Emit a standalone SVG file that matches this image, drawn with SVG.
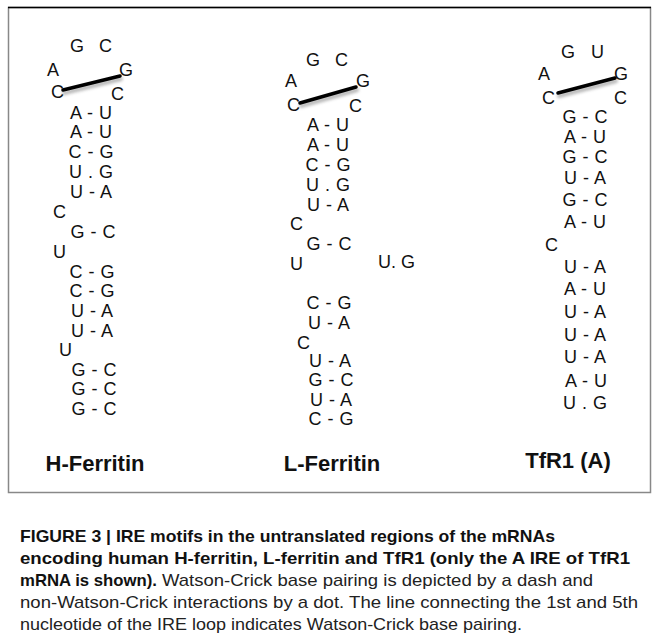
<svg xmlns="http://www.w3.org/2000/svg" width="659" height="643" viewBox="0 0 659 643">
<style>
.n{font-family:"Liberation Sans",Arial,sans-serif;font-size:18px;fill:#111;}
.p{font-family:"Liberation Sans",Arial,sans-serif;font-size:18px;fill:#111;text-anchor:middle;word-spacing:1px;}
.lbl{font-family:"Liberation Sans",Arial,sans-serif;font-size:22px;font-weight:bold;fill:#111;text-anchor:middle;}
.cb{font-family:"Liberation Sans Narrow","Liberation Sans",Arial,sans-serif;font-size:17px;font-weight:bold;fill:#111;}
.cr{font-family:"Liberation Sans Narrow","Liberation Sans",Arial,sans-serif;font-size:17px;fill:#222;}
.lp{stroke:#000;stroke-width:3.5;stroke-linecap:round;}
.sh{stroke:#999;stroke-width:4;stroke-linecap:round;opacity:0.7;}
</style>
<defs>
<filter id="blur" x="-20%" y="-100%" width="140%" height="300%"><feGaussianBlur stdDeviation="1.5"/></filter>
</defs>
<rect width="659" height="643" fill="#fff"/>
<rect x="8.5" y="7.5" width="642" height="485" fill="none" stroke="#888" stroke-width="1.5"/>
<line x1="8" y1="7.5" x2="651" y2="7.5" stroke="#000" stroke-width="1.5"/>

<g id="connectors">
<line class="sh" x1="64" y1="93" x2="121" y2="79" filter="url(#blur)"/>
<line class="lp" x1="63" y1="90" x2="120" y2="76"/>
<line class="sh" x1="301" y1="106" x2="357" y2="90" filter="url(#blur)"/>
<line class="lp" x1="300" y1="103" x2="356" y2="87"/>
<line class="sh" x1="559" y1="96" x2="616" y2="81" filter="url(#blur)"/>
<line class="lp" x1="558" y1="93" x2="615" y2="78"/>
</g>

<g id="h-ferritin">
<text class="n" x="70" y="52">G</text>
<text class="n" x="99" y="52">C</text>
<text class="n" x="47" y="76">A</text>
<text class="n" x="119" y="76">G</text>
<text class="n" x="51" y="98">C</text>
<text class="n" x="111" y="100">C</text>
<text class="p" x="91" y="119">A - U</text>
<text class="p" x="91" y="138">A - U</text>
<text class="p" x="91" y="158">C - G</text>
<text class="p" x="91" y="178">U . G</text>
<text class="p" x="91" y="198">U - A</text>
<text class="n" x="53" y="218">C</text>
<text class="p" x="93" y="238">G - C</text>
<text class="n" x="53" y="258">U</text>
<text class="p" x="92" y="278">C - G</text>
<text class="p" x="92" y="297">C - G</text>
<text class="p" x="92" y="317">U - A</text>
<text class="p" x="92" y="337">U - A</text>
<text class="n" x="59" y="356">U</text>
<text class="p" x="94" y="376">G - C</text>
<text class="p" x="94" y="395">G - C</text>
<text class="p" x="94" y="415">G - C</text>
<text class="lbl" x="95" y="471">H-Ferritin</text>
</g>

<g id="l-ferritin">
<text class="n" x="306" y="66">G</text>
<text class="n" x="335" y="66">C</text>
<text class="n" x="285" y="87">A</text>
<text class="n" x="356" y="87">G</text>
<text class="n" x="287" y="111">C</text>
<text class="n" x="349" y="112">C</text>
<text class="p" x="328" y="131">A - U</text>
<text class="p" x="328" y="151">A - U</text>
<text class="p" x="328" y="171">C - G</text>
<text class="p" x="328" y="191">U . G</text>
<text class="p" x="328" y="211">U - A</text>
<text class="n" x="290" y="230">C</text>
<text class="p" x="329" y="250">G - C</text>
<text class="n" x="290" y="270">U</text>
<text class="n" x="378" y="268">U. G</text>
<text class="p" x="329" y="309">C - G</text>
<text class="p" x="329" y="329">U - A</text>
<text class="n" x="297" y="349">C</text>
<text class="p" x="330" y="367">U - A</text>
<text class="p" x="331" y="386">G - C</text>
<text class="p" x="331" y="406">U - A</text>
<text class="p" x="331" y="425">C - G</text>
<text class="lbl" x="332" y="471">L-Ferritin</text>
</g>

<g id="tfr1">
<text class="n" x="561" y="58">G</text>
<text class="n" x="591" y="58">U</text>
<text class="n" x="538" y="80">A</text>
<text class="n" x="614" y="80">G</text>
<text class="n" x="542" y="104">C</text>
<text class="n" x="614" y="104">C</text>
<text class="p" x="585" y="123">G - C</text>
<text class="p" x="585" y="143">A - U</text>
<text class="p" x="585" y="163">G - C</text>
<text class="p" x="585" y="184">U - A</text>
<text class="p" x="585" y="206">G - C</text>
<text class="p" x="585" y="228">A - U</text>
<text class="n" x="545" y="251">C</text>
<text class="p" x="585" y="273">U - A</text>
<text class="p" x="585" y="295">A - U</text>
<text class="p" x="585" y="318">U - A</text>
<text class="p" x="585" y="341">U - A</text>
<text class="p" x="585" y="363">U - A</text>
<text class="p" x="586" y="387">A - U</text>
<text class="p" x="585" y="409">U . G</text>
<text class="lbl" x="568" y="468">TfR1 (A)</text>
</g>

<g id="caption">
<text class="cb" x="20" y="542" textLength="535" lengthAdjust="spacingAndGlyphs">FIGURE 3 | IRE motifs in the untranslated regions of the mRNAs</text>
<text class="cb" x="20" y="564" textLength="610" lengthAdjust="spacingAndGlyphs">encoding human H-ferritin, L-ferritin and TfR1 (only the A IRE of TfR1</text>
<text class="cb" x="20" y="586" textLength="137" lengthAdjust="spacingAndGlyphs">mRNA is shown).</text>
<text class="cr" x="162" y="586" textLength="431" lengthAdjust="spacingAndGlyphs">Watson-Crick base pairing is depicted by a dash and</text>
<text class="cr" x="20" y="608" textLength="618" lengthAdjust="spacingAndGlyphs">non-Watson-Crick interactions by a dot. The line connecting the 1st and 5th</text>
<text class="cr" x="20" y="630" textLength="502" lengthAdjust="spacingAndGlyphs">nucleotide of the IRE loop indicates Watson-Crick base pairing.</text>
</g>
</svg>
